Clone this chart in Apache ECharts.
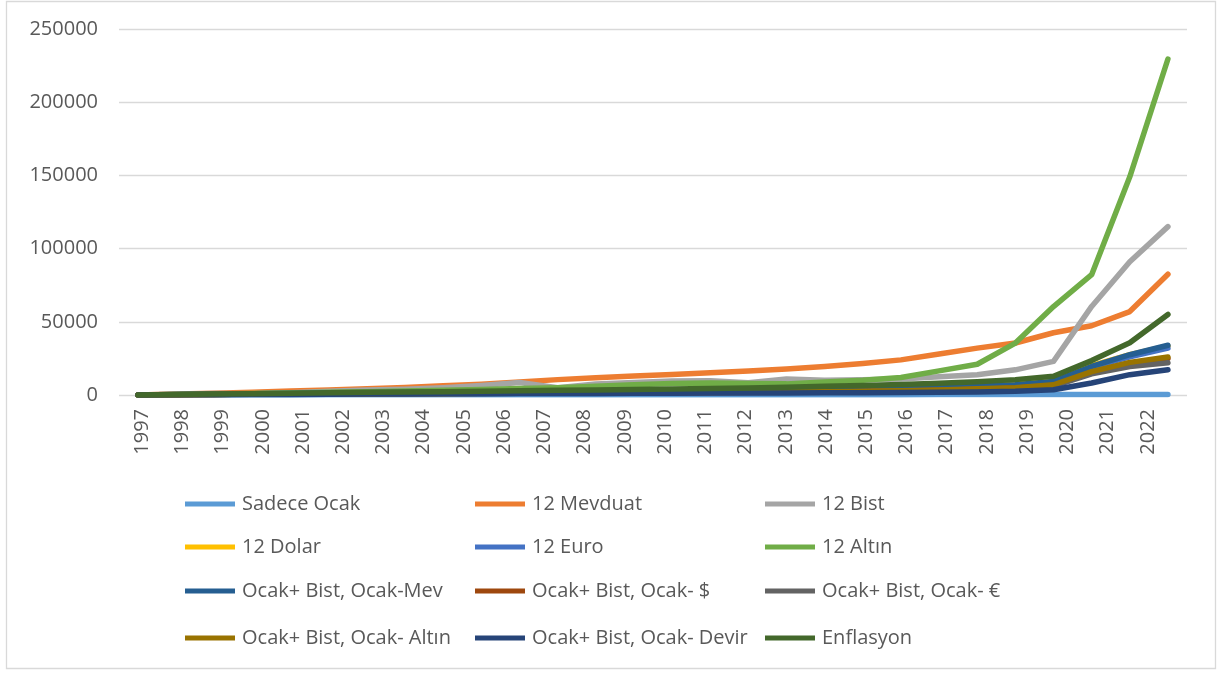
<!DOCTYPE html>
<html>
<head>
<meta charset="utf-8">
<script src="https://cdn.jsdelivr.net/npm/echarts@6/dist/echarts.min.js"></script>
<style>
  html, body { margin: 0; padding: 0; background: #fff; }
  #main { width: 1230px; height: 675px; }
</style>
</head>
<body>
<div id="main"></div>
<script>
// etiketler (26 yil) ve veri noktalari (28 nokta)
const years = ['1997','1998','1999','2000','2001','2002','2003','2004','2005','2006','2007','2008','2009',
  '2010','2011','2012','2013','2014','2015','2016','2017','2018','2019','2020','2021','2022'];
const points = ['1','2','3','4','5','6','7','8','9','10','11','12','13','14',
  '15','16','17','18','19','20','21','22','23','24','25','26','27','28'];

const sadeceOcak = [0, 20, 40, 60, 80, 100, 110, 120, 130, 140, 150, 160, 170, 180,
  190, 200, 210, 220, 230, 240, 250, 260, 270, 280, 290, 300, 310, 320];
const mevduat12 = [0, 600, 1200, 1900, 2700, 3500, 4300, 5200, 6300, 7400, 8800, 10500, 11700, 12900,
  14000, 15200, 16400, 17800, 19500, 21500, 24000, 28000, 32000, 35500, 42500, 47300, 57000, 82500];
const bist12 = [0, 500, 1000, 800, 1500, 2500, 3500, 4000, 5000, 6500, 8500, 5000, 7500, 8500,
  9500, 9800, 8300, 11000, 10000, 10500, 11000, 12500, 13800, 17200, 23000, 60500, 91000, 115000];
const dolar12 = [0, 200, 400, 600, 900, 1000, 1100, 1200, 1300, 1400, 1500, 1500, 1600, 1700,
  1800, 1900, 2000, 2200, 2500, 2800, 3300, 4200, 6500, 7500, 9000, 20000, 27500, 33500];
const euro12 = [0, 200, 400, 600, 800, 1000, 1100, 1300, 1400, 1500, 1600, 1600, 1700, 1800,
  1700, 1700, 1800, 2000, 2300, 2600, 3000, 4000, 5500, 6500, 8500, 19000, 26000, 32000];
const altin12 = [0, 300, 700, 1000, 1400, 1800, 2200, 2700, 3200, 3800, 4400, 5000, 6000, 7000,
  7800, 8200, 7800, 7600, 8800, 10000, 12000, 16500, 21000, 35500, 60400, 82200, 149000, 229500];
const ocakMev = [0, 300, 600, 900, 1100, 1300, 1500, 1700, 1900, 2100, 2300, 2200, 2400, 2600,
  2800, 3000, 3100, 3300, 3600, 4000, 4500, 5000, 6000, 7000, 9300, 19500, 27500, 34000];
const ocakDolar = [0, 200, 400, 600, 700, 800, 900, 1000, 1100, 1200, 1300, 1300, 1400, 1500,
  1600, 1700, 1800, 1900, 2100, 2400, 2700, 3200, 4000, 4800, 6500, 15500, 21500, 25000];
const ocakEuro = [0, 200, 400, 500, 600, 700, 800, 900, 1000, 1100, 1200, 1200, 1300, 1400,
  1500, 1600, 1700, 1800, 2000, 2200, 2500, 3000, 3800, 4500, 6000, 14500, 19500, 22000];
const ocakAltin = [0, 200, 400, 600, 700, 800, 900, 1000, 1100, 1200, 1300, 1400, 1500, 1700,
  1800, 1900, 2000, 2100, 2300, 2600, 2900, 3400, 4200, 5000, 7000, 16000, 22300, 26000];
const ocakDevir = [0, 100, 200, 300, 400, 500, 600, 700, 800, 900, 1000, 1000, 1100, 1200,
  1200, 1300, 1300, 1400, 1500, 1600, 1700, 1900, 2100, 2500, 3600, 8200, 13900, 17300];
const enflasyon = [0, 300, 600, 900, 1200, 1500, 1800, 2100, 2300, 2600, 2900, 3200, 3500, 3800,
  4100, 4400, 4800, 5300, 5900, 6500, 7200, 8000, 9000, 10500, 12800, 23500, 35700, 55000];

const seriesNames = ['Sadece Ocak', '12 Mevduat', '12 Bist', '12 Dolar', '12 Euro', '12 Altın',
  'Ocak+ Bist, Ocak-Mev', 'Ocak+ Bist, Ocak- $', 'Ocak+ Bist, Ocak- €',
  'Ocak+ Bist, Ocak- Altın', 'Ocak+ Bist, Ocak- Devir', 'Enflasyon'];
const seriesData = [sadeceOcak, mevduat12, bist12, dolar12, euro12, altin12,
  ocakMev, ocakDolar, ocakEuro, ocakAltin, ocakDevir, enflasyon];
const colors = ['#5B9BD5', '#ED7D31', '#A5A5A5', '#FFC000', '#4472C4', '#70AD47',
  '#255E91', '#9E480E', '#636363', '#997300', '#264478', '#43682B'];

const font = '"Open Sans", "Noto Sans", sans-serif';
const textColor = '#595959';

// legend: 3 sutun x 4 satir
const colX = [180, 470, 760];
const rowY = [489, 532, 576, 623];

let chart = echarts.init(document.getElementById('main'));
chart.setOption({
  animation: false,
  color: colors,
  graphic: [{
    type: 'rect',
    shape: { x: 6.5, y: 1.5, width: 1209, height: 667 },
    style: { fill: 'none', stroke: '#d9d9d9', lineWidth: 1.3 },
    silent: true
  }],
  grid: [
    { left: 119, top: 29, width: 1068, height: 366 },
    // sadece yil etiketleri icin
    { left: 122, top: 29, width: 1046, height: 366 }
  ],
  legend: seriesNames.map((n, i) => ({
    data: [n],
    left: colX[i % 3],
    top: rowY[Math.floor(i / 3)],
    icon: 'rect',
    itemWidth: 50,
    itemHeight: 5,
    textStyle: { fontFamily: font, fontSize: 20, color: textColor, padding: [0, 0, 0, 2] }
  })),
  xAxis: [
    {
      type: 'category',
      gridIndex: 0,
      data: points,
      boundaryGap: true,
      show: false
    },
    {
      type: 'category',
      gridIndex: 1,
      data: years,
      boundaryGap: true,
      axisLine: { show: false },
      axisTick: { show: false },
      axisLabel: {
        rotate: 90,
        interval: 0,
        margin: 14,
        fontFamily: font,
        fontSize: 20,
        color: textColor
      }
    }
  ],
  yAxis: [
    {
      type: 'value',
      gridIndex: 0,
      min: 0,
      max: 250000,
      interval: 50000,
      axisLine: { show: false },
      axisTick: { show: false },
      splitLine: { lineStyle: { color: '#d9d9d9', width: 1.3 } },
      axisLabel: {
        margin: 21, fontFamily: font, fontSize: 20, color: textColor,
        formatter: v => String(v)
      }
    },
    { type: 'value', gridIndex: 1, show: false, min: 0, max: 250000 }
  ],
  series: seriesNames.map((n, i) => ({
    name: n,
    type: 'line',
    xAxisIndex: 0,
    yAxisIndex: 0,
    data: seriesData[i],
    symbol: 'none',
    lineStyle: { width: 5.5, color: colors[i], cap: 'round', join: 'round' }
  }))
});
</script>
</body>
</html>
